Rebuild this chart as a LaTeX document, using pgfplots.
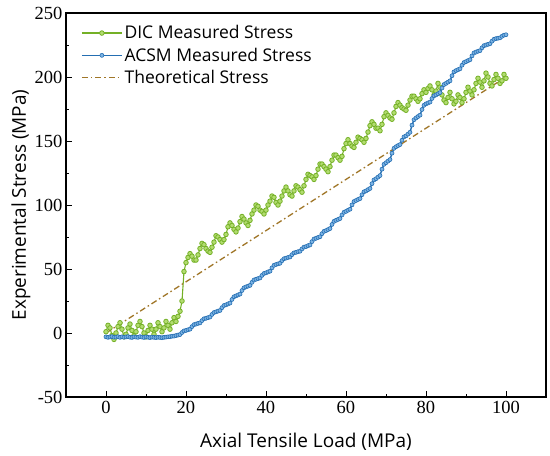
\documentclass[border=0pt]{standalone}
\usepackage{pgfplots}
\pgfplotsset{compat=1.18}
\usepackage{fontspec}
\setmainfont{Liberation Serif}
\newfontfamily\labelfont{Open Sans}
\definecolor{dicgreen}{RGB}{116,176,38}
\definecolor{dicfill}{RGB}{178,220,112}
\definecolor{acsmblue}{RGB}{36,110,178}
\definecolor{acsmfill}{RGB}{125,180,228}
\definecolor{theo}{RGB}{160,118,40}
\begin{document}
\begin{tikzpicture}
\path[use as bounding box] (-66pt,-59pt) rectangle (484pt,397pt);
\begin{axis}[
  at={(0,0)}, anchor=south west,
  scale only axis, width=480pt, height=384pt,
  xmin=-10, xmax=110, ymin=-50, ymax=250,
  xtick={0,20,...,100}, ytick={-50,0,...,250},
  minor x tick num=1, minor y tick num=1,
  xtick pos=bottom, ytick pos=left,
  tick align=inside,
  major tick length=6pt, minor tick length=3.5pt,
  every tick/.style={black, line width=0.9pt},
  axis line style={line width=1.3pt},
  /pgf/number format/assume math mode=true,
  ticklabel style={font=\fontsize{18.5}{18.5}\selectfont},
  xticklabel style={yshift=-1pt},
  xlabel={\labelfont\fontsize{19}{19}\selectfont Axial Tensile Load (MPa)},
  ylabel={\labelfont\fontsize{19}{19}\selectfont Experimental Stress (MPa)},
  xlabel style={at={(axis description cs:0.5,0)}, anchor=center, yshift=-45pt},
  ylabel style={at={(axis description cs:0,0.5)}, anchor=center, yshift=45pt},
  legend style={draw=none, fill=none, at={(0.025,0.978)}, anchor=north west,
    font=\labelfont\fontsize{17.5}{17.5}\selectfont, row sep=3.5pt,
    /tikz/every even column/.append style={column sep=2pt}},
  legend cell align=left,
  legend image code/.code={
    \draw[mark repeat=2, mark phase=2, #1] plot coordinates {(0pt,0pt) (20pt,0pt) (40pt,0pt)};
  },
]
\addplot[color=dicgreen, line width=1.1pt, mark=*, mark size=2.3pt,
  mark options={draw=dicgreen, fill=dicfill, line width=0.8pt}] coordinates {
(0,1) (0.5,6) (1,4) (1.5,-2) (2,-5) (2.5,0) (3,5) (3.5,8) (4,3) (4.5,-3)
(5,-1) (5.5,4) (6,7) (6.5,2) (7,-2) (7.5,1) (8,6) (8.5,9) (9,5) (9.5,0)
(10,-3) (10.5,2) (11,6) (11.5,3) (12,-1) (12.5,3) (13,8) (13.5,5) (14,1) (14.5,4)
(15,9) (15.5,6) (16,3) (16.5,8) (17,12) (17.5,9) (18,13) (18.5,17) (19,25) (19.5,48)
(20,55) (20.5,59) (21,62) (21.5,60) (22,57) (22.5,57) (23,61) (23.5,66) (24,70) (24.5,69)
(25,66) (25.5,64) (26,63) (26.5,67) (27,71) (27.5,76) (28,75) (28.5,73) (29,71) (29.5,73)
(30,77) (30.5,83) (31,86) (31.5,84) (32,81) (32.5,79) (33,82) (33.5,87) (34,91) (34.5,89)
(35,86) (35.5,84) (36,88) (36.5,93) (37,96) (37.5,100) (38,99) (38.5,96) (39,95) (39.5,93)
(40,96) (40.5,100) (41,103) (41.5,107) (42,106) (42.5,102) (43,100) (43.5,103) (44,107) (44.5,111)
(45,114) (45.5,111) (46,108) (46.5,107) (47,111) (47.5,115) (48,114) (48.5,112) (49,110) (49.5,115)
(50,120) (50.5,124) (51,123) (51.5,122) (52,120) (52.5,123) (53,128) (53.5,132) (54,132) (54.5,130)
(55,128) (55.5,126) (56,130) (56.5,135) (57,139) (57.5,139) (58,137) (58.5,135) (59,138) (59.5,144)
(60,148) (60.5,151) (61,148) (61.5,146) (62,145) (62.5,149) (63,153) (63.5,152) (64,151) (64.5,149)
(65,152) (65.5,157) (66,162) (66.5,165) (67,163) (67.5,160) (68,160) (68.5,158) (69,163) (69.5,169)
(70,172) (70.5,170) (71,168) (71.5,167) (72,172) (72.5,177) (73,180) (73.5,178) (74,176) (74.5,175)
(75,174) (75.5,178) (76,182) (76.5,185) (77,185) (77.5,183) (78,181) (78.5,183) (79,187) (79.5,190)
(80,188) (80.5,191) (81,193) (81.5,190) (82,186) (82.5,189) (83,195) (83.5,192) (84,186) (84.5,182)
(85,180) (85.5,184) (86,188) (86.5,183) (87,179) (87.5,181) (88,186) (88.5,184) (89,180) (89.5,183)
(90,188) (90.5,192) (91,189) (91.5,186) (92,190) (92.5,195) (93,199) (93.5,196) (94,192) (94.5,197)
(95,203) (95.5,200) (96,195) (96.5,193) (97,198) (97.5,202) (98,199) (98.5,195) (99,197) (99.5,202)
(100,199)
};
\addlegendentry{DIC Measured Stress}
\addplot[color=acsmblue, line width=1.4pt, mark=*, mark size=2pt,
  mark options={draw=acsmblue, fill=acsmfill, line width=0.6pt}] coordinates {
(0,-3.0) (0.5,-3.4) (1,-3.1) (1.5,-2.8) (2,-3.3) (2.5,-3.2) (3,-2.9) (3.5,-3.4) (4,-3.0) (4.5,-3.3)
(5,-3.1) (5.5,-2.8) (6,-3.3) (6.5,-3.5) (7,-3.0) (7.5,-3.2) (8,-3.4) (8.5,-2.9) (9,-3.2) (9.5,-3.5)
(10,-3.1) (10.5,-3.3) (11,-3.6) (11.5,-3.2) (12,-3.4) (12.5,-3.6) (13,-3.3) (13.5,-3.5) (14,-3.7) (14.5,-3.4)
(15,-3.2) (15.5,-3.0) (16,-2.9) (16.5,-2.5) (17,-2.4)
(17.5,-2) (18,-1.6) (18.5,-1.2) (19,0.4) (19.5,1.6)
(20,2) (20.5,2.5) (21,3) (21.5,5) (22,6.5)
(22.5,7) (23,7.5) (23.5,7.9) (24,9.7) (24.5,11.1)
(25,11.5) (25.5,12) (26,12.5) (26.5,14.5) (27,16)
(27.5,16.5) (28,17.1) (28.5,17.6) (29,19.8) (29.5,21.5)
(30,22) (30.5,22.7) (31,23.4) (31.5,26.2) (32,28.3)
(32.5,29) (33,29.7) (33.5,30.4) (34,33.2) (34.5,35.3)
(35,36) (35.5,36.6) (36,37.2) (36.5,39.6) (37,41.4)
(37.5,42) (38,42.5) (38.5,43) (39,45) (39.5,46.5)
(40,47) (40.5,47.7) (41,48.3) (41.5,50.9) (42,52.9)
(42.5,53.5) (43,54) (43.5,54.5) (44,56.5) (44.5,58)
(45,58.5) (45.5,59) (46,59.4) (46.5,61.2) (47,62.6)
(47.5,63) (48,63.5) (48.5,63.9) (49,65.7) (49.5,67.1)
(50,67.5) (50.5,68.2) (51,68.8) (51.5,71.4) (52,73.4)
(52.5,74) (53,74.6) (53.5,75.2) (54,77.6) (54.5,79.4)
(55,80) (55.5,80.8) (56,81.6) (56.5,84.8) (57,87.2)
(57.5,88) (58,88.7) (58.5,89.4) (59,92.2) (59.5,94.3)
(60,95) (60.5,95.9) (61,96.7) (61.5,100.1) (62,102.7)
(62.5,103.5) (63,104.3) (63.5,105) (64,108) (64.5,110.3)
(65,111) (65.5,112) (66,112.9) (66.5,116.7) (67,119.6)
(67.5,120.5) (68,121.8) (68.5,123) (69,128) (69.5,131.8)
(70,133) (70.5,134.3) (71,135.5) (71.5,140.5) (72,144.3)
(72.5,145.5) (73,146.4) (73.5,147.2) (74,150.6) (74.5,153.2)
(75,154) (75.5,155.4) (76,156.8) (76.5,162.4) (77,166.6)
(77.5,168) (78,169.1) (78.5,170.2) (79,174.6) (79.5,177.9)
(80,179) (80.5,179.7) (81,180.4) (81.5,183.2) (82,185.3)
(82.5,186) (83,186.9) (83.5,187.8) (84,191.4) (84.5,194.1)
(85,195) (85.5,196) (86,197) (86.5,201) (87,204)
(87.5,205) (88,205.7) (88.5,206.4) (89,209.2) (89.5,211.3)
(90,212) (90.5,212.8) (91,213.5) (91.5,216.5) (92,218.8)
(92.5,219.5) (93,220.1) (93.5,220.6) (94,222.8) (94.5,224.5)
(95,225) (95.5,225.5) (96,226) (96.5,228) (97,229.5)
(97.5,230) (98,230.3) (98.5,230.6) (99,231.8) (99.5,232.7)
(100,233)
};
\addlegendentry{ACSM Measured Stress}
\addplot[color=theo, line width=1.3pt, dash pattern=on 6pt off 3pt on 1.5pt off 3pt] coordinates {
(0,0) (100,200)
};
\addlegendentry{Theoretical Stress}
\end{axis}
\end{tikzpicture}
\end{document}
